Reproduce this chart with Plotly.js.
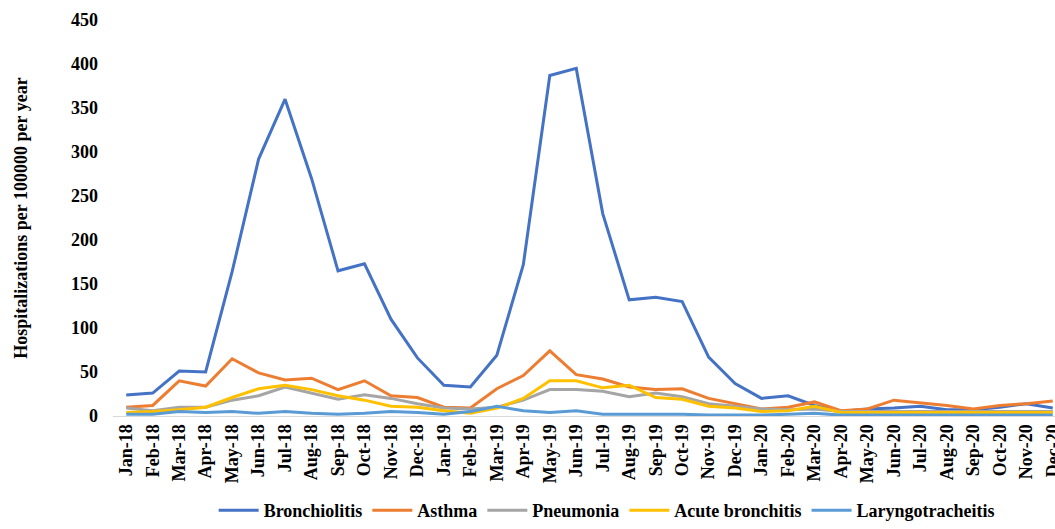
<!DOCTYPE html>
<html>
<head>
<meta charset="utf-8">
<script src="https://cdn.plot.ly/plotly-3.0.1.min.js"></script>
<style>
html,body{margin:0;padding:0;overflow:hidden;background:#fff;}
#chart{width:1075px;height:529px;}
</style>
</head>
<body>
<div id="chart"></div>
<script>
const months = ["Jan-18","Feb-18","Mar-18","Apr-18","May-18","Jun-18","Jul-18","Aug-18","Sep-18","Oct-18","Nov-18","Dec-18",
"Jan-19","Feb-19","Mar-19","Apr-19","May-19","Jun-19","Jul-19","Aug-19","Sep-19","Oct-19","Nov-19","Dec-19",
"Jan-20","Feb-20","Mar-20","Apr-20","May-20","Jun-20","Jul-20","Aug-20","Sep-20","Oct-20","Nov-20","Dec-20"];

const bronchiolitis = [24,26,51,50,164,292,360,270,165,173,110,66,
35,33,69,172,387,395,230,132,135,130,67,37,
20,23,12,5,8,9,11,7,7,10,14,9];

const asthma = [10,12,40,34,65,49,41,43,30,40,23,21,
10,9,31,46,74,47,42,33,30,31,20,14,
8,10,16,6,8,18,15,12,8,12,14,17];

const pneumonia = [9,6,10,10,18,23,33,26,19,24,20,14,
9,8,10,18,30,30,28,22,26,22,14,11,
8,7,8,5,5,5,5,5,5,5,5,5];

const acuteBronchitis = [4,5,7,10,21,31,35,30,23,18,11,10,
6,3,9,20,40,40,32,35,21,19,11,9,
5,6,11,4,4,4,4,4,4,4,4,4];

const laryngotracheitis = [2,2,5,4,5,3,5,3,2,3,5,4,
2,5,11,6,4,6,2,2,1.5,2,1,1,
1,2,3,1,1,1,1,1,1,1,1,1];

const seriesNames = ["Bronchiolitis","Asthma","Pneumonia","Acute bronchitis","Laryngotracheitis"];
const seriesData = [bronchiolitis, asthma, pneumonia, acuteBronchitis, laryngotracheitis];
const colors = ["#4472C4","#ED7D31","#A5A5A5","#FFC000","#5B9BD5"];
const yTicks = [0,50,100,150,200,250,300,350,400,450];

const FONT = "'Liberation Serif','Times New Roman',serif";

const traces = seriesNames.map((n,i)=>({
  type:'scatter', mode:'lines', name:n, x:months, y:seriesData[i],
  line:{color:colors[i], width:3}
}));

const layout = {
  width:1075, height:529,
  margin:{l:113, r:9, t:20, b:113},
  paper_bgcolor:'#fff', plot_bgcolor:'#fff',
  font:{family:FONT, color:'#000', size:15, weight:'bold'},
  showlegend:true,
  legend:{orientation:'h', x:0.518, xanchor:'center', xref:'paper',
    yref:'container', y:0.0, yanchor:'bottom',
    font:{family:FONT, size:18, weight:'bold', color:'#000'}, itemwidth:40, tracegroupgap:0},
  xaxis:{type:'category', range:[-0.5,35.5], tickangle:-90, showgrid:false, zeroline:false,
    showline:true, linecolor:'#D9D9D9', linewidth:1, ticks:'', automargin:false,
    tickfont:{family:FONT, size:18, weight:'bold', color:'#000'}},
  yaxis:{range:[0,450], tickvals:yTicks, showgrid:false, zeroline:false, showline:false, ticks:'',
    ticklabelstandoff:14, automargin:false,
    tickfont:{family:FONT, size:18, weight:'bold', color:'#000'},
    title:{text:'Hospitalizations per 100000 per year', standoff:38,
      font:{family:FONT, size:18, weight:'bold', color:'#000'}}}
};

Plotly.newPlot('chart', traces, layout, {displayModeBar:false, staticPlot:true});
</script>
</body>
</html>
